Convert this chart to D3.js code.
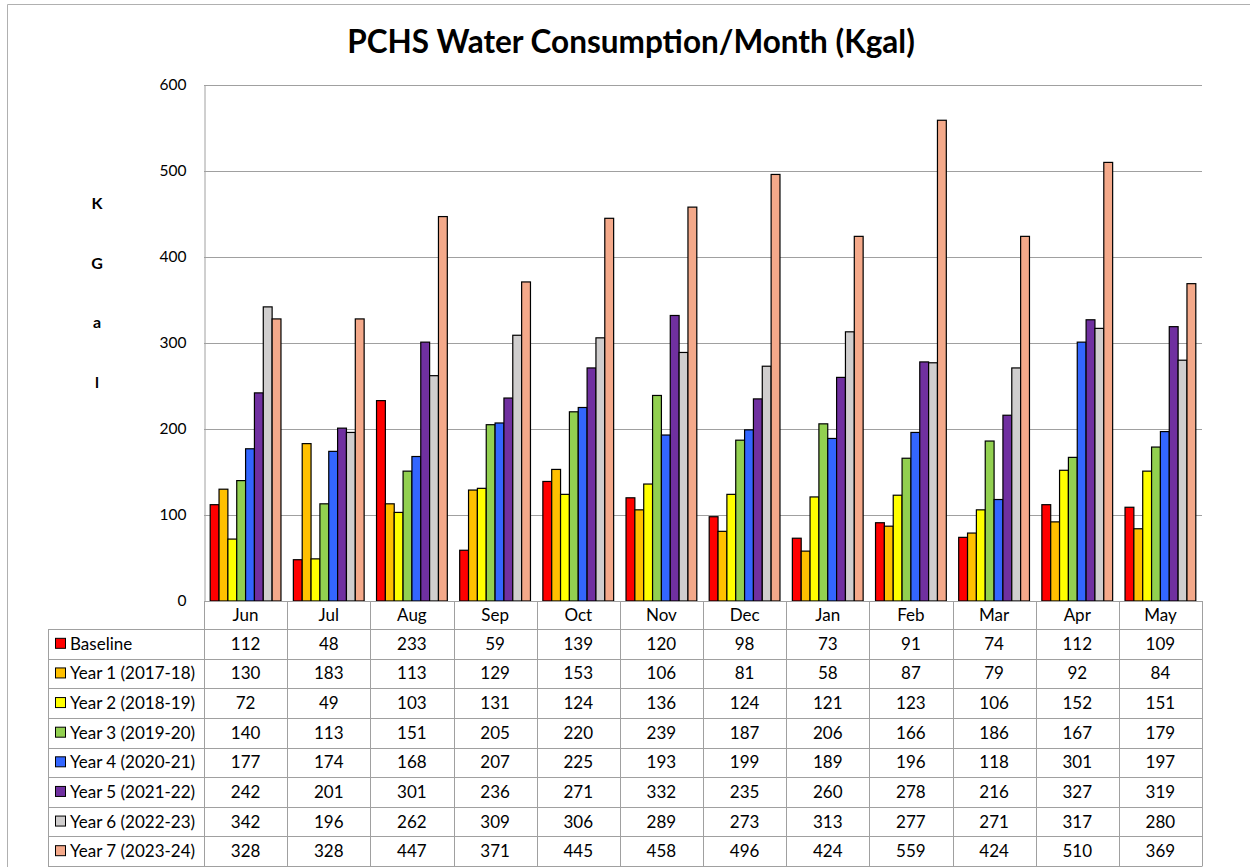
<!DOCTYPE html>
<html><head><meta charset="utf-8">
<script src="https://cdn.jsdelivr.net/npm/d3@7"></script>
<style>body{margin:0;background:#fff}svg{display:block}text{font-family:Lato,"Open Sans",sans-serif}</style>
</head><body>
<svg id="c" width="1250" height="867"></svg>
<script>
const months = ["Jun","Jul","Aug","Sep","Oct","Nov","Dec","Jan","Feb","Mar","Apr","May"];
const seriesNames = ["Baseline","Year 1 (2017-18)","Year 2 (2018-19)","Year 3 (2019-20)","Year 4 (2020-21)","Year 5 (2021-22)","Year 6 (2022-23)","Year 7 (2023-24)"];
const baseline = [112,48,233,59,139,120,98,73,91,74,112,109];
const year1 = [130,183,113,129,153,106,81,58,87,79,92,84];
const year2 = [72,49,103,131,124,136,124,121,123,106,152,151];
const year3 = [140,113,151,205,220,239,187,206,166,186,167,179];
const year4 = [177,174,168,207,225,193,199,189,196,118,301,197];
const year5 = [242,201,301,236,271,332,235,260,278,216,327,319];
const year6 = [342,196,262,309,306,289,273,313,277,271,317,280];
const year7 = [328,328,447,371,445,458,496,424,559,424,510,369];
const yTicks = [0,100,200,300,400,500,600];
const colors = ["#FF0000","#FFC000","#FFFF00","#92D050","#3366FF","#7030A0","#D0CECE","#F4A98A"];
const series = [baseline,year1,year2,year3,year4,year5,year6,year7];

const svg = d3.select("#c");
const L = 204, R = 1202, T = 85, B = 601;
const gridCol = "#a0a0a0";

// outer border (top and left only visible)
svg.append("line").attr("x1",7.5).attr("x2",1250).attr("y1",4.5).attr("y2",4.5).attr("stroke","#b0b0b0");
svg.append("line").attr("x1",7.5).attr("x2",7.5).attr("y1",4.5).attr("y2",867).attr("stroke","#b0b0b0");

// title
svg.append("text").attr("x",631).attr("y",53).attr("text-anchor","middle")
  .attr("font-size",31.5).attr("font-weight","bold").attr("fill","#000")
  .text("PCHS Water Consumption/Month (Kgal)");

const x = d3.scaleBand().domain(months).range([L,R]).padding(0);
const xs = d3.scaleBand().domain(d3.range(series.length)).range([0,x.bandwidth()]).paddingInner(0).paddingOuter(0.7);
const y = d3.scaleLinear().domain([0,600]).range([B,T]);

// gridlines
svg.append("g").selectAll("line").data(yTicks.filter(d=>d>0)).join("line")
  .attr("x1",L).attr("x2",R).attr("y1",d=>Math.round(y(d))+0.5).attr("y2",d=>Math.round(y(d))+0.5)
  .attr("stroke",gridCol).attr("stroke-width",1);

// y axis
const yAxis = d3.axisLeft(y).tickValues(yTicks).tickSize(0).tickPadding(18);
const ga = svg.append("g").attr("transform",`translate(${L+0.5},0)`).call(yAxis);
ga.select(".domain").attr("stroke",gridCol);
ga.selectAll("text").attr("font-size",15.5).attr("fill","#000").attr("font-family","Lato");

// y label stacked
const yLab = ["K","G","a","l"];
svg.append("g").selectAll("text").data(yLab).join("text")
  .attr("x",97).attr("y",(d,i)=>209+i*59.5).attr("text-anchor","middle")
  .attr("font-size",16).attr("font-weight","bold").text(d=>d);

// bars
series.forEach((s,si)=>{
  svg.append("g").selectAll("rect").data(s).join("rect")
    .attr("x",(d,i)=>x(months[i])+xs(si))
    .attr("y",d=>y(d))
    .attr("width",xs.bandwidth())
    .attr("height",d=>B-y(d))
    .attr("fill",colors[si]).attr("stroke","#000").attr("stroke-width",1.2);
});

// x axis line
svg.append("line").attr("x1",L).attr("x2",R).attr("y1",B+0.5).attr("y2",B+0.5).attr("stroke",gridCol);

// table
const TL = 48, hdrB = 629, rowH = (866-629)/8;
const tg = svg.append("g");
tg.selectAll("line.hv").data(months.concat(["end"])).join("line").attr("class","hv")
  .attr("x1",(d,i)=>Math.round(i<12?x(d):R)+0.5).attr("x2",(d,i)=>Math.round(i<12?x(d):R)+0.5)
  .attr("y1",B).attr("y2",866).attr("stroke",gridCol);
tg.append("line").attr("x1",TL+0.5).attr("x2",TL+0.5).attr("y1",hdrB).attr("y2",866).attr("stroke",gridCol);
tg.selectAll("line.hh").data(d3.range(9)).join("line").attr("class","hh")
  .attr("x1",TL).attr("x2",R+0.5)
  .attr("y1",d=>Math.round(hdrB+d*rowH)+0.5).attr("y2",d=>Math.round(hdrB+d*rowH)+0.5)
  .attr("stroke",gridCol);
tg.selectAll("text.m").data(months).join("text").attr("class","m")
  .attr("x",d=>x(d)+x.bandwidth()/2).attr("y",621).attr("text-anchor","middle")
  .attr("font-size",17).text(d=>d);
series.forEach((s,si)=>{
  const cy = hdrB + si*rowH + rowH/2 + 6;
  tg.append("rect").attr("x",55.5).attr("y",cy-11.5).attr("width",10).attr("height",10)
    .attr("fill",colors[si]).attr("stroke","#000").attr("stroke-width",1);
  tg.append("text").attr("x",70).attr("y",cy).attr("font-size",17).text(seriesNames[si]);
  tg.selectAll(null).data(s).join("text")
    .attr("x",(d,i)=>x(months[i])+x.bandwidth()/2).attr("y",cy)
    .attr("text-anchor","middle").attr("font-size",17).text(d=>d);
});
</script>
</body></html>
